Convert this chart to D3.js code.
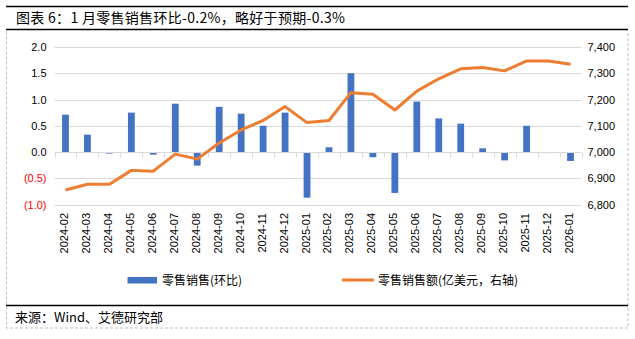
<!DOCTYPE html>
<html><head><meta charset="utf-8">
<script src="https://cdn.jsdelivr.net/npm/d3@7"></script>
<style>body{margin:0;background:#fff}svg{display:block}</style>
</head><body>
<svg id="c" width="635" height="339"></svg>
<script>
const categories = ["2024-02","2024-03","2024-04","2024-05","2024-06","2024-07","2024-08","2024-09","2024-10","2024-11","2024-12","2025-01","2025-02","2025-03","2025-04","2025-05","2025-06","2025-07","2025-08","2025-09","2025-10","2025-11","2025-12","2026-01"];
const momValues = [0.71,0.33,-0.03,0.75,-0.05,0.92,-0.26,0.86,0.73,0.50,0.75,-0.87,0.09,1.50,-0.10,-0.78,0.96,0.64,0.54,0.07,-0.16,0.50,-0.02,-0.17];
const salesValues = [6855,6877,6877,6930,6927,6992,6973,7034,7084,7120,7173,7112,7120,7226,7220,7160,7232,7279,7317,7322,7309,7347,7347,7334];
const leftTicks = [-1.0,-0.5,0,0.5,1.0,1.5,2.0];
const rightTicks = [6800,6900,7000,7100,7200,7300,7400];
const titleText = "图表 6：1 月零售销售环比-0.2%，略好于预期-0.3%";
const sourceText = "来源：Wind、艾德研究部";
const legendBar = "零售销售(环比)";
const legendLine = "零售销售额(亿美元，右轴)";

const svg = d3.select("#c");
const font = "'Liberation Sans', Arial, sans-serif";
const cjk = "'Noto Sans CJK SC', sans-serif";
const x0 = 54.5, x1 = 581.5, yTop = 47, yBot = 204.5;

const x = d3.scaleBand().domain(categories).range([x0, x1]);
const yL = d3.scaleLinear().domain([-1, 2]).range([yBot, yTop]);
const yR = d3.scaleLinear().domain([6800, 7400]).range([yBot, yTop]);

// frame
svg.append("rect").attr("x",6.5).attr("y",29.5).attr("width",621.5).attr("height",298.5)
  .attr("fill","none").attr("stroke","#bfbfbf").attr("stroke-dasharray","3,2").attr("stroke-width",1);
svg.append("line").attr("x1",6).attr("x2",628).attr("y1",6.5).attr("y2",6.5).attr("stroke","#000").attr("stroke-width",1.3);
svg.append("line").attr("x1",6).attr("x2",628).attr("y1",29.5).attr("y2",29.5).attr("stroke","#000").attr("stroke-width",1.3);
svg.append("line").attr("x1",6).attr("x2",628).attr("y1",305.5).attr("y2",305.5).attr("stroke","#000").attr("stroke-width",1.3);

svg.append("text").attr("x",16).attr("y",23).attr("font-family",cjk).attr("font-size",14)
  .attr("letter-spacing",0.3).attr("fill","#000").text(titleText);
svg.append("text").attr("x",15).attr("y",322).attr("font-family",cjk).attr("font-size",13)
  .attr("fill","#000").text(sourceText);

// gridlines
svg.append("g").selectAll("line").data(leftTicks.filter(d=>d!==0)).join("line")
  .attr("x1",x0).attr("x2",x1).attr("y1",d=>Math.round(yL(d))+0.5).attr("y2",d=>Math.round(yL(d))+0.5)
  .attr("stroke","#d9d9d9").attr("stroke-width",1);

// left axis
const gL = svg.append("g").attr("transform",`translate(${x0-8},0)`)
  .call(d3.axisLeft(yL).tickValues(leftTicks).tickSize(0).tickPadding(0)
    .tickFormat(d => d < 0 ? "(" + d3.format(".1f")(-d) + ")" : d3.format(".1f")(d)));
gL.select(".domain").remove();
gL.selectAll("text").attr("font-family",font).attr("font-size",11)
  .attr("fill",d => d < 0 ? "#ff0000" : "#000");

// right axis
const gR = svg.append("g").attr("transform",`translate(${x1+6},0)`)
  .call(d3.axisRight(yR).tickValues(rightTicks).tickSize(0).tickPadding(0).tickFormat(d3.format(",")));
gR.select(".domain").remove();
gR.selectAll("text").attr("font-family",font).attr("font-size",11).attr("fill","#000");

// bars
const bw = 6.8;
svg.append("g").selectAll("rect").data(categories).join("rect")
  .attr("x",(d)=>x(d)+x.bandwidth()/2-bw/2)
  .attr("y",(d,i)=>Math.min(yL(momValues[i]),yL(0)))
  .attr("width",bw)
  .attr("height",(d,i)=>Math.abs(yL(momValues[i])-yL(0)))
  .attr("fill","#4472c4");

// zero axis with ticks
const zy = Math.round(yL(0))+0.5;
svg.append("line").attr("x1",x0).attr("x2",x1).attr("y1",zy).attr("y2",zy).attr("stroke","#d9d9d9");
svg.append("g").selectAll("line").data(d3.range(categories.length+1)).join("line")
  .attr("x1",i=>Math.round(x0+i*x.step())+0.5).attr("x2",i=>Math.round(x0+i*x.step())+0.5)
  .attr("y1",zy).attr("y2",zy+5).attr("stroke","#d9d9d9");

// line
const line = d3.line().x((d,i)=>x(categories[i])+x.bandwidth()/2).y(d=>yR(d));
svg.append("path").datum(salesValues).attr("d",line).attr("fill","none")
  .attr("stroke","#ed7d31").attr("stroke-width",3).attr("stroke-linejoin","round");

// x labels
svg.append("g").selectAll("text").data(categories).join("text")
  .attr("transform",d=>`translate(${x(d)+x.bandwidth()/2+2.5},213) rotate(-90)`)
  .attr("text-anchor","end").attr("font-family",font).attr("font-size",11).attr("fill","#000")
  .text(d=>d);

// legend
svg.append("rect").attr("x",127.5).attr("y",277).attr("width",29.5).attr("height",6.5).attr("fill","#4472c4");
svg.append("text").attr("x",162).attr("y",284.5).attr("font-family",cjk).attr("font-size",12).attr("fill","#000").text(legendBar);
svg.append("line").attr("x1",342).attr("x2",374).attr("y1",280).attr("y2",280).attr("stroke","#ed7d31").attr("stroke-width",3);
svg.append("text").attr("x",378).attr("y",284.5).attr("font-family",cjk).attr("font-size",12).attr("fill","#000").text(legendLine);
</script>
</body></html>
